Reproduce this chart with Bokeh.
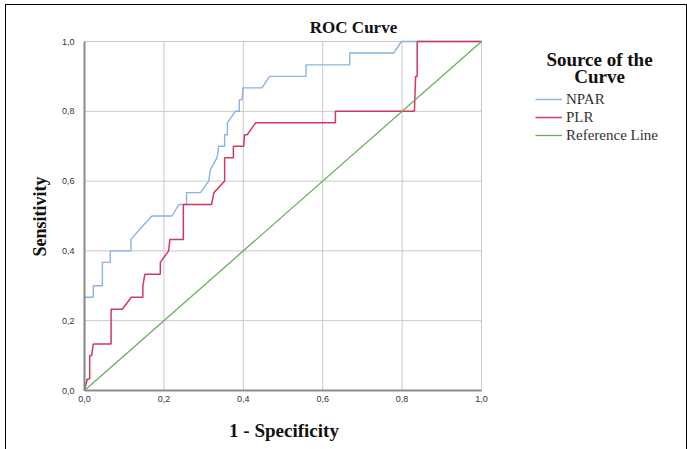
import math
from bokeh.plotting import figure
from bokeh.models import Range1d, FixedTicker, Label, Legend, LegendItem, CustomJSTickFormatter
from bokeh.embed import file_html
from bokeh.resources import INLINE

# ---- data ----
npar_fpr = [0.0, 0.0, 0.022, 0.022, 0.045, 0.045, 0.065, 0.065, 0.117, 0.117, 0.143, 0.17,
            0.22, 0.238, 0.257, 0.257, 0.292, 0.313, 0.317, 0.334, 0.338, 0.353, 0.353, 0.36,
            0.36, 0.38, 0.39, 0.39, 0.397, 0.399, 0.447, 0.466, 0.558, 0.558, 0.668, 0.668,
            0.779, 0.798, 1.0]
npar_tpr = [0.0, 0.267, 0.267, 0.30, 0.30, 0.367, 0.367, 0.40, 0.40, 0.433, 0.467, 0.50,
            0.50, 0.533, 0.533, 0.567, 0.567, 0.60, 0.633, 0.667, 0.70, 0.70, 0.733, 0.733,
            0.767, 0.80, 0.80, 0.833, 0.833, 0.867, 0.867, 0.90, 0.90, 0.933, 0.933, 0.967,
            0.967, 1.0, 1.0]

plr_fpr = [0.0, 0.007, 0.013, 0.013, 0.018, 0.022, 0.067, 0.067, 0.095, 0.118, 0.147, 0.147,
           0.152, 0.191, 0.191, 0.212, 0.215, 0.249, 0.249, 0.32, 0.326, 0.353, 0.353, 0.375,
           0.375, 0.401, 0.403, 0.41, 0.431, 0.632, 0.632, 0.831, 0.834, 0.838, 0.838, 1.0]
plr_tpr = [0.0, 0.033, 0.033, 0.10, 0.10, 0.133, 0.133, 0.233, 0.233, 0.267, 0.267, 0.30,
           0.333, 0.333, 0.367, 0.40, 0.433, 0.433, 0.533, 0.533, 0.567, 0.60, 0.667, 0.667,
           0.70, 0.70, 0.733, 0.733, 0.767, 0.767, 0.80, 0.80, 0.90, 0.90, 1.0, 1.0]

ref_x = [0.0, 1.0]
ref_y = [0.0, 1.0]

tick_values = [0.0, 0.2, 0.4, 0.6, 0.8, 1.0]
tick_labels = ["0,0", "0,2", "0,4", "0,6", "0,8", "1,0"]
series_names = ["NPAR", "PLR", "Reference Line"]
legend_title = ["Source of the", "Curve"]
chart_title = "ROC Curve"
x_title = "1 - Specificity"
y_title = "Sensitivity"

SERIF = "Liberation Serif"
SANS = "Liberation Sans"

# ---- layout (page pixels) ----
CANVAS_X, CANVAS_Y = 6, 5          # top-left of the canvas on the page
CANVAS_W, CANVAS_H = 680, 444
ORIGIN_X, ORIGIN_Y = 84, 390       # page position of data point (0, 0)
UNIT_X, UNIT_Y = 397, 349          # pixels per data unit


def dx(px):
    return (px - ORIGIN_X) / UNIT_X


def dy(py):
    return (ORIGIN_Y - py) / UNIT_Y


p = figure(frame_width=CANVAS_W, frame_height=CANVAS_H, output_backend="svg",
           toolbar_location=None, title=None,
           x_range=Range1d(dx(CANVAS_X), dx(CANVAS_X + CANVAS_W)),
           y_range=Range1d(dy(CANVAS_Y + CANVAS_H), dy(CANVAS_Y)),
           min_border=0,
           styles={"margin-left": "5px", "margin-top": "4px",
                   "border-left": "1px solid #000", "border-top": "1px solid #000",
                   "border-right": "1px solid #000"})
p.outline_line_color = None
p.xgrid.visible = False
p.ygrid.visible = False

fmt = CustomJSTickFormatter(args=dict(tvals=tick_values, tlabels=tick_labels), code="""
const i = tvals.findIndex(t => Math.abs(t - tick) < 1e-9);
return i >= 0 ? tlabels[i] : "";
""")

for ax in (p.xaxis[0], p.yaxis[0]):
    ax.ticker = FixedTicker(ticks=tick_values)
    ax.formatter = fmt
    ax.bounds = (0, 1)
    ax.fixed_location = 0
    ax.axis_line_color = "#8c8c8c"
    ax.axis_line_width = 2
    ax.major_tick_line_color = None
    ax.minor_tick_line_color = None
    ax.major_tick_out = 0
    ax.major_tick_in = 0
    ax.minor_tick_out = 0
    ax.major_label_text_font = SANS
    ax.major_label_text_font_size = "9px"
    ax.major_label_text_color = "#333333"

p.xaxis.major_label_standoff = 5
p.yaxis.major_label_standoff = 10

# grid lines restricted to the 0..1 square
n = len(tick_values)
p.segment(x0=tick_values, y0=[0.0] * n, x1=tick_values, y1=[1.0] * n,
          line_color="#c8c8c8", line_width=1)
p.segment(x0=[0.0] * n, y0=tick_values, x1=[1.0] * n, y1=tick_values,
          line_color="#c8c8c8", line_width=1)

r1 = p.line(npar_fpr, npar_tpr, line_color="#88b3e6", line_width=1.4)
r2 = p.line(plr_fpr, plr_tpr, line_color="#d2375e", line_width=1.5)
r3 = p.line(ref_x, ref_y, line_color="#67ad5b", line_width=1.3)

# legend: glyph left at page x=535, legend bottom at page y=144
legend = Legend(items=[LegendItem(label=series_names[0], renderers=[r1]),
                       LegendItem(label=series_names[1], renderers=[r2]),
                       LegendItem(label=series_names[2], renderers=[r3])],
                location=(535 - CANVAS_X, CANVAS_Y + CANVAS_H - 144),
                padding=0, margin=0, border_line_color=None,
                background_fill_alpha=0, label_text_font=SERIF, label_text_font_size="15px",
                label_text_color="#333333", glyph_width=27, glyph_height=18, label_height=18,
                spacing=0, label_standoff=4)
p.add_layout(legend)

bold = dict(text_font=SERIF, text_font_style="bold", text_align="center",
            text_baseline="middle", text_color="#111111")
p.add_layout(Label(x=dx(353), y=dy(27), text=chart_title, text_font_size="17px", **bold))
p.add_layout(Label(x=dx(599), y=dy(59), text=legend_title[0], text_font_size="19px", **bold))
p.add_layout(Label(x=dx(599), y=dy(76), text=legend_title[1], text_font_size="19px", **bold))
p.add_layout(Label(x=dx(283.5), y=dy(430), text=x_title, text_font_size="19px", **bold))
p.add_layout(Label(x=dx(39), y=dy(216), text=y_title, text_font_size="18px",
                   angle=math.pi / 2, **bold))

open("out.html", "w").write(file_html(p, INLINE))
